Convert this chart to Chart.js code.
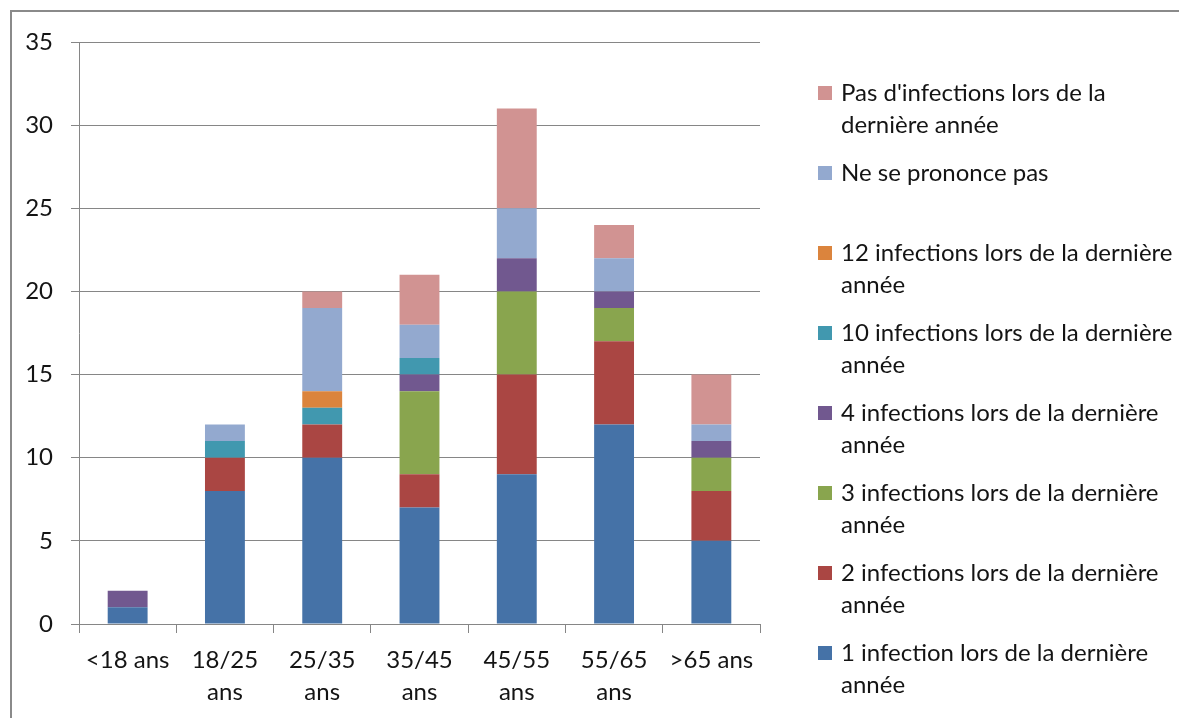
<!DOCTYPE html>
<html>
<head>
<meta charset="utf-8">
<script src="https://cdn.jsdelivr.net/npm/chart.js@4/dist/chart.umd.min.js"></script>
<style>
html, body { margin: 0; padding: 0; background: #fff; overflow: hidden; }
#frame { position: absolute; left: 10px; top: 10px; width: 1250px; height: 740px; border: 2px solid #8a8a8a; background: #fff; }
</style>
</head>
<body>
<div id="frame"><canvas id="chart" width="1250" height="740"></canvas></div>
<script>
// age groups (x axis), multi-line where the original wraps
const AGE_GROUPS = [['<18 ans'], ['18/25', 'ans'], ['25/35', 'ans'], ['35/45', 'ans'], ['45/55', 'ans'], ['55/65', 'ans'], ['>65 ans']];

// series, bottom of the stack first
const ONE_INFECTION    = [1, 8, 10, 7, 9, 12, 5];
const TWO_INFECTIONS   = [0, 2, 2, 2, 6, 5, 3];
const THREE_INFECTIONS = [0, 0, 0, 5, 5, 2, 2];
const FOUR_INFECTIONS  = [1, 0, 0, 1, 2, 1, 1];
const TEN_INFECTIONS   = [0, 1, 1, 1, 0, 0, 0];
const TWELVE_INFECTIONS = [0, 0, 1, 0, 0, 0, 0];
const NO_ANSWER        = [0, 1, 5, 2, 3, 2, 1];
const NO_INFECTION     = [0, 0, 1, 3, 6, 2, 3];

const SERIES_NAMES = [
  ['1 infection lors de la dernière', 'année'],
  ['2 infections lors de la dernière', 'année'],
  ['3 infections lors de la dernière', 'année'],
  ['4 infections lors de la dernière', 'année'],
  ['10 infections lors de la dernière', 'année'],
  ['12 infections lors de la dernière', 'année'],
  ['Ne se prononce pas'],
  ["Pas d'infections lors de la", 'dernière année']
];
const SERIES_VALUES = [ONE_INFECTION, TWO_INFECTIONS, THREE_INFECTIONS, FOUR_INFECTIONS,
  TEN_INFECTIONS, TWELVE_INFECTIONS, NO_ANSWER, NO_INFECTION];
const SERIES_COLORS = ['#4572A7', '#AA4643', '#89A54E', '#71588F', '#4198AF', '#DB843D', '#93A9CF', '#D19392'];

const Y_TICKS = [0, 5, 10, 15, 20, 25, 30, 35];

const FONT = { family: 'Lato, "Open Sans", sans-serif', size: 24, lineHeight: 32 / 24 };
const TEXT = '#141414';
const GRID = '#868686';

// legend drawn by hand: Excel style, reversed order, fixed 80px pitch
const sideLegend = {
  id: 'sideLegend',
  afterDraw(chart) {
    const ctx = chart.ctx;
    ctx.save();
    ctx.font = FONT.size + 'px ' + FONT.family;
    ctx.textBaseline = 'middle';
    ctx.textAlign = 'left';
    const x0 = 806, y0 = 81, pitch = 80, lineH = 32;
    const n = SERIES_NAMES.length;
    for (let k = 0; k < n; k++) {
      const i = n - 1 - k;
      const y = y0 + k * pitch;
      ctx.fillStyle = SERIES_COLORS[i];
      ctx.fillRect(x0, y - 7, 14, 14);
      ctx.fillStyle = TEXT;
      SERIES_NAMES[i].forEach((line, j) => ctx.fillText(line, x0 + 23, y + j * lineH));
    }
    ctx.restore();
  }
};

const datasets = SERIES_VALUES.map((vals, i) => ({
  label: SERIES_NAMES[i].join(' '),
  data: vals,
  backgroundColor: SERIES_COLORS[i],
  borderWidth: 0,
  barPercentage: 0.41,
  categoryPercentage: 1
}));

new Chart(document.getElementById('chart'), {
  type: 'bar',
  data: { labels: AGE_GROUPS, datasets },
  options: {
    responsive: false,
    animation: false,
    layout: { padding: { top: 30, right: 502, left: 0, bottom: 0 } },
    plugins: { legend: { display: false }, tooltip: { enabled: false } },
    scales: {
      x: {
        stacked: true,
        grid: { drawOnChartArea: false, drawTicks: true, tickLength: 9, color: GRID },
        border: { color: GRID },
        ticks: { color: TEXT, font: FONT, padding: 11, maxRotation: 0, autoSkip: false },
        afterFit(s) { s.height = 128; s.paddingLeft = 0; s.paddingRight = 0; }
      },
      y: {
        stacked: true,
        min: 0,
        max: 35,
        afterBuildTicks(s) { s.ticks = Y_TICKS.map(v => ({ value: v })); },
        grid: { color: GRID, tickLength: 8 },
        border: { color: GRID },
        ticks: { color: TEXT, font: FONT, padding: 18 },
        afterFit(s) { s.width = 67; s.paddingTop = 0; s.paddingBottom = 0; }
      }
    }
  },
  plugins: [sideLegend]
});
</script>
</body>
</html>
